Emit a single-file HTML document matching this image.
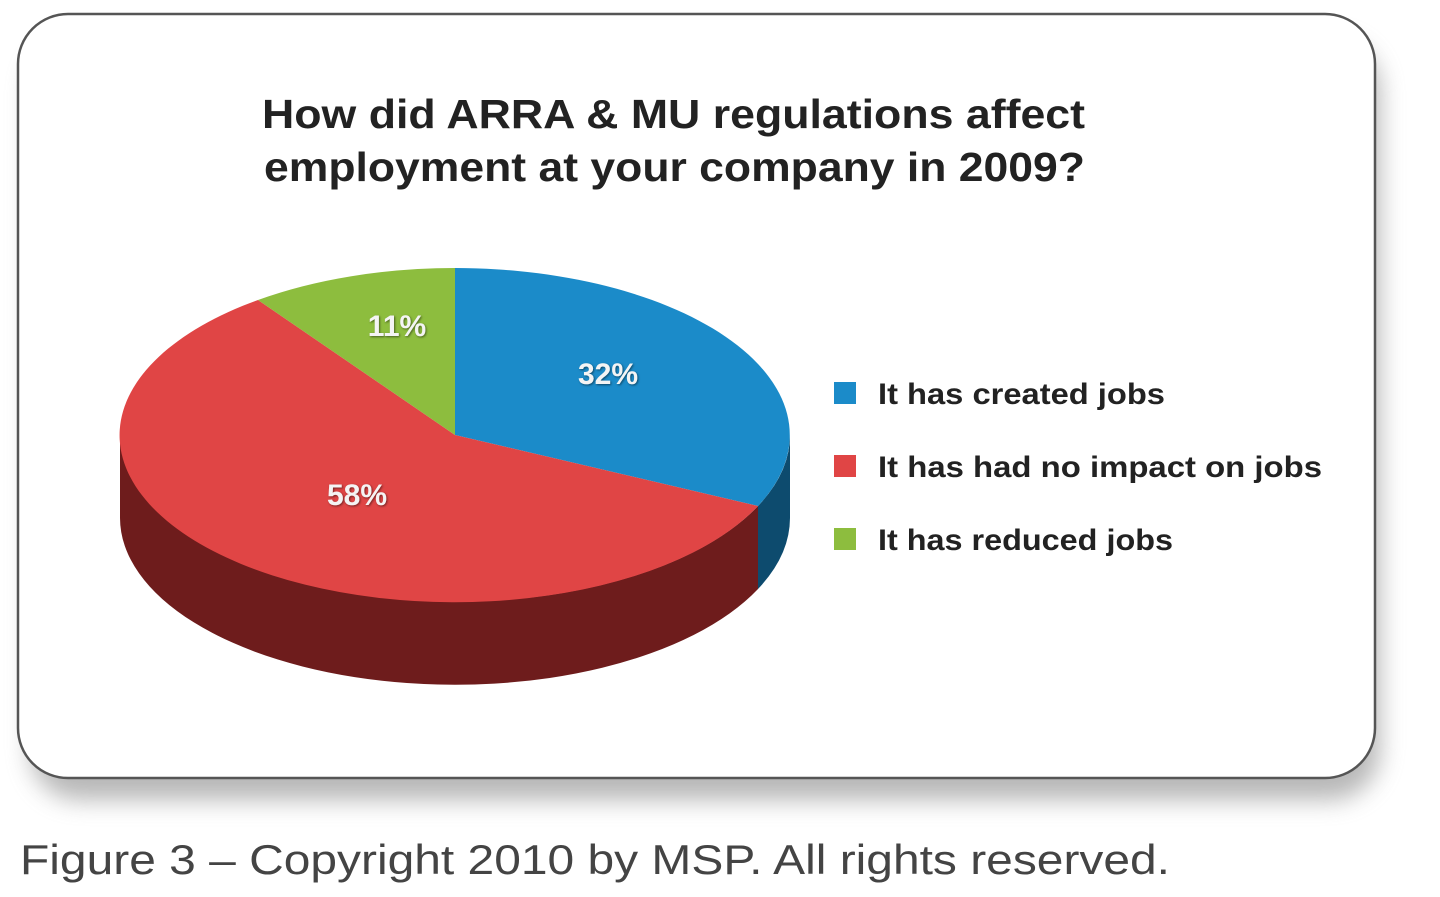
<!DOCTYPE html>
<html><head><meta charset="utf-8"><style>
html,body{margin:0;padding:0;background:#fff;width:1440px;height:897px;overflow:hidden;font-family:"Liberation Sans",sans-serif}
</style></head><body>
<svg width="1440" height="897" viewBox="0 0 1440 897" xmlns="http://www.w3.org/2000/svg">
<defs>
<filter id="sh" x="-10%" y="-10%" width="120%" height="130%"><feGaussianBlur stdDeviation="12"/></filter>
<filter id="ts"><feDropShadow dx="1" dy="1" stdDeviation="1" flood-color="#000" flood-opacity="0.5"/></filter>
</defs>
<rect x="30" y="40" width="1350" height="760" rx="50" fill="#888" opacity="0.6" filter="url(#sh)"/>
<rect x="18" y="14" width="1357" height="764" rx="50" fill="#fff" stroke="#555" stroke-width="2.5"/>
<text x="262" y="128" font-size="41" font-weight="bold" fill="#222" textLength="823" lengthAdjust="spacingAndGlyphs">How did ARRA &amp; MU regulations affect</text>
<text x="264" y="181" font-size="41" font-weight="bold" fill="#222" textLength="821" lengthAdjust="spacingAndGlyphs">employment at your company in 2009?</text>
<path d="M790,435 A335,167 0 0 1 758,506 L758,589 A335,167 0 0 0 790,518 Z" fill="#0d4b6e"/>
<path d="M758,506 A335,167 0 0 1 120,435 L120,518 A335,167 0 0 0 758,589 Z" fill="#6e1c1c"/>
<path d="M455,435 L455,268 A335,167 0 0 1 758,506 Z" fill="#1b8bc9"/>
<path d="M455,435 L758,506 A335,167 0 1 1 258,300 Z" fill="#e04545"/>
<path d="M455,435 L258,300 A335,167 0 0 1 455,268 Z" fill="#8dbd3e"/>
<g font-size="30" font-weight="bold" fill="#f4f4f4" text-anchor="middle" filter="url(#ts)">
<text x="608" y="384">32%</text>
<text x="397" y="336">11%</text>
<text x="357" y="505">58%</text>
</g>
<rect x="834" y="382" width="22" height="22" fill="#1b8bc9"/>
<rect x="834" y="455" width="22" height="22" fill="#e04545"/>
<rect x="834" y="528" width="22" height="22" fill="#8dbd3e"/>
<g font-size="30" font-weight="bold" fill="#222" lengthAdjust="spacingAndGlyphs">
<text x="878" y="404" textLength="287" lengthAdjust="spacingAndGlyphs">It has created jobs</text>
<text x="878" y="477" textLength="444" lengthAdjust="spacingAndGlyphs">It has had no impact on jobs</text>
<text x="878" y="550" textLength="295" lengthAdjust="spacingAndGlyphs">It has reduced jobs</text>
</g>
<text x="20" y="874" font-size="42" fill="#444" textLength="1150" lengthAdjust="spacingAndGlyphs">Figure 3 – Copyright 2010 by MSP. All rights reserved.</text>
</svg>
</body></html>
